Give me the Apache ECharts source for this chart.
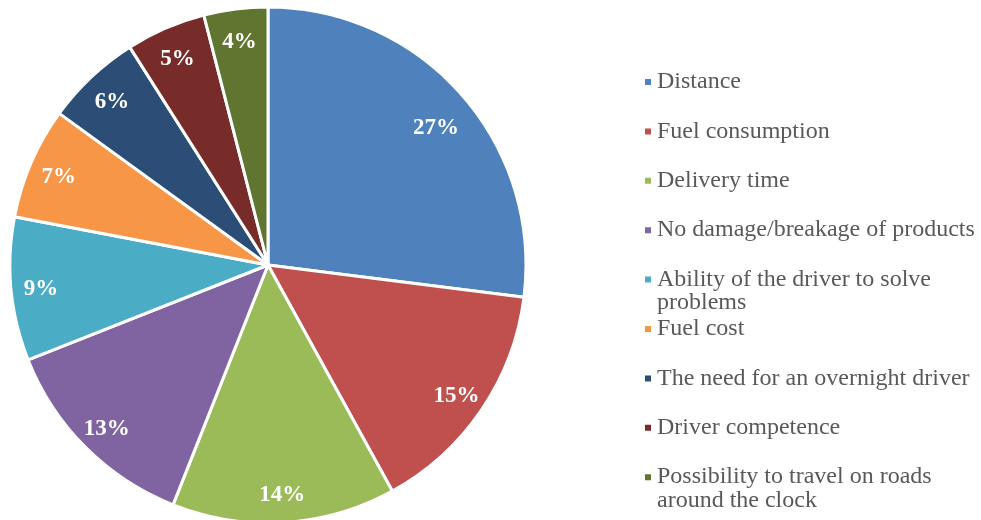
<!doctype html>
<html>
<head>
<meta charset="UTF-8">
<title>pie</title>
<style>
  html, body { margin: 0; padding: 0; background: #fff; }
  #main { width: 981px; height: 520px; }
</style>
</head>
<body>
<div id="main"></div>
<script src="https://cdn.jsdelivr.net/npm/echarts@6/dist/echarts.min.js"></script>
<script>
// data
var categories = [
  'Distance',
  'Fuel consumption',
  'Delivery time',
  'No damage/breakage of products',
  'Ability of the driver to solve',
  'Fuel cost',
  'The need for an overnight driver',
  'Driver competence',
  'Possibility to travel on roads'
];
var wrapLines = ['problems', 'around the clock'];
var shares = [27, 15, 14, 13, 9, 7, 6, 5, 4];
var colors = ['#4F81BD', '#C0504D', '#9BBB59', '#8064A2', '#4BACC6', '#F79646', '#2C4D75', '#772C2A', '#5F7530'];

var chart = echarts.init(document.getElementById('main'));
var pieData = categories.map(function (c, i) {
  return { name: c, value: shares[i] };
});
// largest slice label sits a bit nearer the centre in the original
var labelData = pieData.map(function (d, i) {
  var o = { name: d.name, value: d.value };
  if (i === 0) o.label = { offset: [-3, 14] };
  return o;
});

var serif = '"Liberation Serif", "Times New Roman", serif';

var option = {
  animation: false,
  color: colors,
  legend: {
    orient: 'vertical',
    left: 638,
    top: 65,
    itemWidth: 8,
    itemHeight: 8,
    itemGap: 25.4,
    icon: 'rect',
    data: categories,
    textStyle: { fontFamily: serif, fontSize: 24, color: '#595959', lineHeight: 24 },
    selectedMode: false
  },
  graphic: [
    { type: 'text', left: 657, top: 291, style: { text: wrapLines[0], font: '24px ' + serif, fill: '#595959' } },
    { type: 'text', left: 657, top: 489, style: { text: wrapLines[1], font: '24px ' + serif, fill: '#595959' } }
  ],
  series: [
    {
      type: 'pie',
      center: [268, 265],
      radius: [0, 258],
      startAngle: 90,
      clockwise: true,
      data: pieData,
      itemStyle: { borderColor: '#fff', borderWidth: 3 },
      label: { show: false },
      labelLine: { show: false },
      silent: true
    },
    {
      type: 'pie',
      center: [268, 265],
      radius: [192, 258],
      startAngle: 90,
      clockwise: true,
      data: labelData,
      itemStyle: { color: 'transparent', borderWidth: 0 },
      label: {
        show: true,
        position: 'inside',
        formatter: '{c}%',
        color: '#fff',
        fontFamily: serif,
        fontWeight: 'bold',
        fontSize: 23,
        offset: [0, 3]
      },
      labelLine: { show: false },
      silent: true
    }
  ]
};
chart.setOption(option);
</script>
</body>
</html>
